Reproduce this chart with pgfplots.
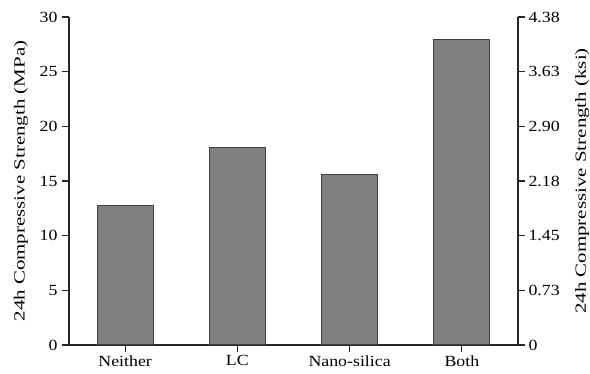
\documentclass[border=0pt]{standalone}
\usepackage{pgfplots}
\pgfplotsset{compat=1.18}
\usepackage{fontspec}
\setmainfont{Liberation Serif}
\newfontfamily\tickfont[FakeStretch=1.15]{Liberation Serif}
\newfontfamily\labelfont[FakeStretch=1.35]{Liberation Serif}

\pgfplotsset{
  strength axis/.style={
    scale only axis, width=449pt, height=328pt,
    xmin=-0.5, xmax=3.5, ymin=0, ymax=30,
    ytick={0,5,...,30},
    tick align=outside,
    major tick length=7pt,
    axis line style={line width=1.1pt, black!85},
    every tick/.style={line width=1.1pt, black!85},
    tick label style={font=\tickfont\fontsize{15.5}{17}\selectfont},
    label style={font=\labelfont\fontsize{15.5}{17}\selectfont},
    /pgf/number format/assume math mode=true,
  }
}

\begin{document}
\begin{tikzpicture}
\begin{axis}[
  name=main,
  strength axis,
  axis x line*=bottom, axis y line*=left,
  xtick={0,1,2,3},
  xticklabels={Neither,LC,Nano-silica,Both},
  yticklabel style={xshift=-1pt},
  ylabel={24h Compressive Strength (MPa)},
  ylabel style={at={(axis description cs:-0.107,0.5)}, anchor=center},
]
\addplot[ybar, bar width=56pt, fill=black!50, draw=black!75, line width=1pt]
  coordinates {(0,12.8) (1,18.1) (2,15.6) (3,27.9)};
\end{axis}
\begin{axis}[
  strength axis,
  axis x line=none, axis y line*=right,
  yticklabels={0,0.73,1.45,2.18,2.90,3.63,4.38},
  ylabel={24h Compressive Strength (ksi)},
  ylabel style={at={(axis description cs:1.143,0.5)}, anchor=center},
]
\end{axis}
\pgfresetboundingbox
\path (main.south west) ++(-69pt,-29pt) rectangle ++(590pt,374pt);
\end{tikzpicture}
\end{document}
